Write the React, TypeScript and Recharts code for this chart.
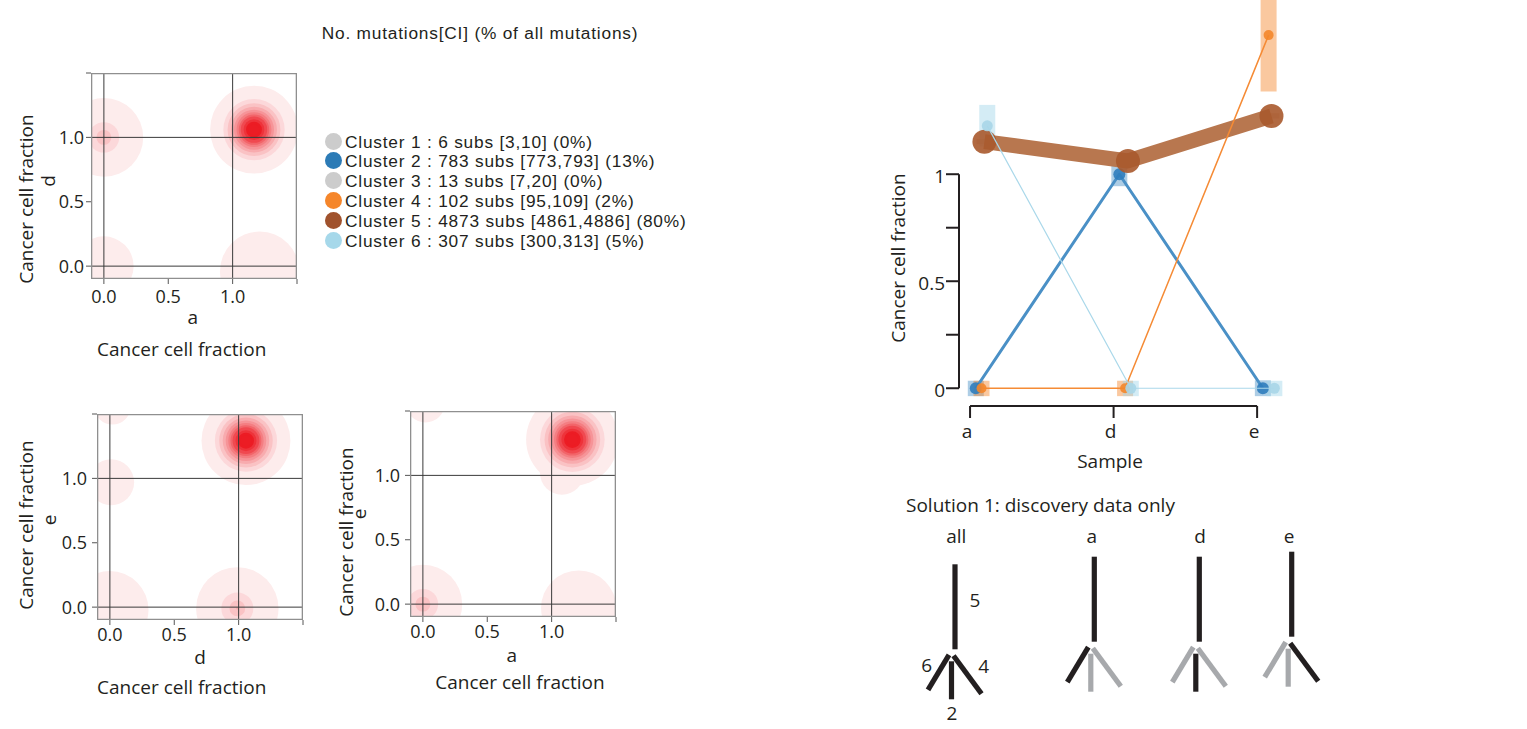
import React from 'react';
import { ScatterChart, Scatter, XAxis, YAxis, ReferenceLine, ReferenceDot, ErrorBar } from 'recharts';

const FONT = '"Open Sans", "Noto Sans", sans-serif';
const LEGEND_FONT = '"Liberation Sans", Arial, sans-serif';
const INK = '#231f20';

// ---- cluster summary ----
const clusterNames = ['Cluster 1', 'Cluster 2', 'Cluster 3', 'Cluster 4', 'Cluster 5', 'Cluster 6'];
const clusterSubs = [6, 783, 13, 102, 4873, 307];
const clusterCiLow = [3, 773, 7, 95, 4861, 300];
const clusterCiHigh = [10, 793, 20, 109, 4886, 313];
const clusterPct = [0, 13, 0, 2, 80, 5];
const clusterColors = ['#cccccc', '#2c7bb6', '#cccccc', '#f5862b', '#a0522d', '#a6d8ea'];

// ---- cancer cell fraction per sample (a, d, e) ----
const samples = ['a', 'd', 'e'];
const ccfCluster2 = [0, 1.0, 0];
const ciLowCluster2 = [-0.037, 0.944, -0.037];
const ciHighCluster2 = [0.035, 1.046, 0.037];
const ccfCluster4 = [0, 0, 1.65];
const ciLowCluster4 = [-0.037, -0.037, 1.386];
const ciHighCluster4 = [0.035, 0.035, 1.95];
const ccfCluster5 = [1.152, 1.062, 1.272];
const ciLowCluster5 = [1.14, 1.05, 1.26];
const ciHighCluster5 = [1.165, 1.075, 1.285];
const ccfCluster6 = [1.226, 0, 0];
const ciLowCluster6 = [1.129, -0.037, -0.037];
const ciHighCluster6 = [1.324, 0.035, 0.035];

// ---- 2D density peaks for the pairwise sample plots ----
const densityAD = [
  { x: 0, y: 0, peak: 0.15, spread: 0.57 },
  { x: 1.21, y: -0.04, peak: 0.15, spread: 0.76 },
  { x: 0, y: 1.0, peak: 0.31, spread: 0.27 },
  { x: 1.166, y: 1.06, peak: 1, spread: 0.148 },
];
const densityDE = [
  { x: 0.02, y: 1.56, peak: 0.15, spread: 0.35 },
  { x: 0.01, y: 0.97, peak: 0.15, spread: 0.44 },
  { x: 0, y: -0.02, peak: 0.15, spread: 0.74 },
  { x: 0.99, y: -0.01, peak: 0.31, spread: 0.283 },
  { x: 1.057, y: 1.293, peak: 1, spread: 0.15 },
];
const densityAE = [
  { x: 0.02, y: 1.56, peak: 0.15, spread: 0.37 },
  { x: 1.21, y: -0.03, peak: 0.15, spread: 0.72 },
  { x: 0, y: 0, peak: 0.31, spread: 0.27 },
  { x: 1.08, y: 1.02, peak: 0.15, spread: 0.42 },
  { x: 1.161, y: 1.278, peak: 1, spread: 0.156 },
];

// ---- tree (cluster 5 trunk, three branches) ----
const treeNames = ['all', 'a', 'd', 'e'];
const treeEdges = [
  { cluster: 5, slot: 'trunk' },
  { cluster: 6, slot: 'left' },
  { cluster: 2, slot: 'middle' },
  { cluster: 4, slot: 'right' },
];

const ccfByCluster: Record<number, number[]> = { 2: ccfCluster2, 4: ccfCluster4, 5: ccfCluster5, 6: ccfCluster6 };

// ---------- shared text helper ----------
// bf = distance from top of a line-height:1 box to the baseline, in em
function Txt({ x, baseline, size = 19, anchor = 'middle', rotate = false, cy = 0, font, bf = 0.888, spacing, children }: any) {
  const common = { position: 'absolute' as const, fontSize: size, lineHeight: 1, whiteSpace: 'nowrap' as const, fontFamily: font, letterSpacing: spacing };
  if (rotate) {
    return (
      <div style={{ ...common, left: baseline - (bf - 0.5) * size, top: cy, transform: 'translate(-50%, -50%) rotate(-90deg)' }}>
        {children}
      </div>
    );
  }
  return (
    <div style={{ ...common, left: x, top: baseline - bf * size, transform: anchor === 'middle' ? 'translateX(-50%)' : undefined }}>
      {children}
    </div>
  );
}

// ---------- density panels ----------
const CCF_DOMAIN: [number, number] = [-0.1, 1.5];
const CCF_TICKS = [0, 0.5, 1, 1.5];
const PLOT = 206;
const PPU = PLOT / (CCF_DOMAIN[1] - CCF_DOMAIN[0]);
const LEVELS = [0.1, 0.2, 0.25, 0.3, 0.35, 0.4, 0.45, 0.5, 0.58, 0.66, 0.75];
const LEVEL_MIX = [0.085, 0.17, 0.27, 0.37, 0.47, 0.57, 0.68, 0.8, 0.9, 1, 1];
const RED = [236, 28, 36];
const levelFill = (f: number) => `rgb(${RED.map((c) => Math.round(255 - f * (255 - c))).join(',')})`;
const FRAME = '#8f8f8f';
const GRID = '#3a3a3a';
const NoMark = () => <g />;

function DensityBlob(props: any) {
  const { cx, cy, payload } = props;
  return (
    <g>
      {LEVELS.map((t, k) =>
        payload.peak > t ? (
          <circle key={k} cx={cx} cy={cy} r={payload.spread * Math.log(payload.peak / t) * PPU} fill={levelFill(LEVEL_MIX[k])} />
        ) : null
      )}
    </g>
  );
}

const fmtCcf = (v: number) => (v > 1.2 ? '' : v.toFixed(1));
const [LO, HI] = CCF_DOMAIN;
// reference lines at 0 and 1, then the panel box, drawn above the density
const gridLines = [0, 1].flatMap((v) => [
  [{ x: v, y: LO }, { x: v, y: HI }],
  [{ x: LO, y: v }, { x: HI, y: v }],
]);
const frameLines = [
  [{ x: LO, y: LO }, { x: HI, y: LO }],
  [{ x: LO, y: HI }, { x: HI, y: HI }],
  [{ x: LO, y: LO }, { x: LO, y: HI }],
  [{ x: HI, y: LO }, { x: HI, y: HI }],
];

function DensityPanel({ blobs, left, top, yAxisWidth, marginTop, xGap, yGap }: any) {
  const tickStyle = { fill: INK, fontSize: 18, fontFamily: FONT };
  const tickLine = { stroke: '#555' };
  return (
    <div style={{ position: 'absolute', left, top }}>
      <ScatterChart width={yAxisWidth + PLOT + 12} height={marginTop + PLOT + 30} margin={{ top: marginTop, right: 12, bottom: 0, left: 0 }}>
        <XAxis xAxisId={0} type="number" dataKey="x" domain={CCF_DOMAIN} allowDataOverflow ticks={CCF_TICKS} interval={0}
          tickFormatter={fmtCcf} tickSize={5} tickMargin={xGap} height={30} axisLine={false} tickLine={tickLine} tick={tickStyle} />
        <XAxis xAxisId="top" orientation="top" type="number" domain={CCF_DOMAIN} allowDataOverflow ticks={CCF_TICKS} interval={0}
          tick={false} tickSize={5} height={0} axisLine={false} tickLine={tickLine} />
        <YAxis yAxisId={0} type="number" dataKey="y" domain={CCF_DOMAIN} allowDataOverflow ticks={CCF_TICKS} interval={0}
          tickFormatter={fmtCcf} tickSize={5} tickMargin={yGap} width={yAxisWidth} axisLine={false} tickLine={tickLine} tick={tickStyle} />
        <YAxis yAxisId="right" orientation="right" type="number" domain={CCF_DOMAIN} allowDataOverflow ticks={CCF_TICKS} interval={0}
          tick={false} tickSize={5} width={0} axisLine={false} tickLine={tickLine} />
        <Scatter data={blobs} shape={DensityBlob} isAnimationActive={false} />
        {gridLines.map((seg, i) => (
          <Scatter key={'g' + i} data={seg} line={{ stroke: GRID, strokeWidth: 1 }} shape={NoMark} isAnimationActive={false} />
        ))}
        {frameLines.map((seg, i) => (
          <Scatter key={'f' + i} data={seg} line={{ stroke: FRAME, strokeWidth: 2.6 }} shape={NoMark} isAnimationActive={false} />
        ))}
      </ScatterChart>
    </div>
  );
}

// ---------- cluster trajectories ----------
const X_DOMAIN: [number, number] = [-0.077, 2.25];
const Y_DOMAIN: [number, number] = [-0.083, 1.814];

const lineSeries = [
  { id: 2, ccf: ccfCluster2, lo: ciLowCluster2, hi: ciHighCluster2, line: '#4a90c6', dot: '#2f7dbd', box: 'rgba(74,144,198,0.45)', width: 3, r: 6 },
  { id: 5, ccf: ccfCluster5, lo: ciLowCluster5, hi: ciHighCluster5, line: '#b8774f', dot: '#a9592c', box: 'rgba(160,82,45,0.3)', width: 15, r: 12 },
  { id: 4, ccf: ccfCluster4, lo: ciLowCluster4, hi: ciHighCluster4, line: '#f58b35', dot: '#f4862a', box: 'rgba(245,134,43,0.45)', width: 1.5, r: 5 },
  { id: 6, ccf: ccfCluster6, lo: ciLowCluster6, hi: ciHighCluster6, line: '#aad8ea', dot: '#a8d6e8', box: 'rgba(166,216,234,0.48)', width: 1.2, r: 5.5 },
];

function CcfTick(props: any) {
  const { x, y, payload } = props;
  const v = payload.value;
  const major = Math.abs(v * 2 - Math.round(v * 2)) < 1e-6;
  return (
    <g>
      <line x1={x - 13} x2={x} y1={y} y2={y} stroke={INK} strokeWidth={2} />
      {major && (
        <text x={x - 14} y={y + 8.7} textAnchor="end" fontSize={19} fontFamily={FONT} fill={INK}>{String(v)}</text>
      )}
    </g>
  );
}

function SampleTick(props: any) {
  const { x, y, payload } = props;
  return (
    <g>
      <line x1={x} x2={x} y1={y} y2={y + 12} stroke={INK} strokeWidth={2} />
      <text x={x - 3} y={y + 32.3} textAnchor="middle" fontSize={19} fontFamily={FONT} fill={INK}>{samples[payload.value]}</text>
    </g>
  );
}

function TrajectoryChart() {
  return (
    <div style={{ position: 'absolute', left: 870, top: 0 }}>
      <ScatterChart width={433} height={476} margin={{ top: 0, right: 10, bottom: 0, left: 0 }}>
        <XAxis type="number" dataKey="x" domain={X_DOMAIN} allowDataOverflow ticks={[0, 1, 2]} interval={0}
          axisLine={false} tickLine={false} tickSize={0} tickMargin={0} height={70} tick={<SampleTick />} />
        <YAxis type="number" dataKey="y" domain={Y_DOMAIN} allowDataOverflow ticks={[0, 0.25, 0.5, 0.75, 1]} interval={0}
          axisLine={false} tickLine={false} tickSize={0} tickMargin={0} width={89} tick={<CcfTick />} />
        <ReferenceLine segment={[{ x: X_DOMAIN[0], y: 0 }, { x: X_DOMAIN[0], y: 1 }]} stroke={INK} strokeWidth={2} ifOverflow="visible" />
        <ReferenceLine segment={[{ x: 0, y: Y_DOMAIN[0] }, { x: 2, y: Y_DOMAIN[0] }]} stroke={INK} strokeWidth={2} ifOverflow="visible" />
        {lineSeries.map((s) => (
          <Scatter
            key={s.id}
            data={samples.map((_, i) => ({ x: i + s.id * 0.02, y: s.ccf[i], err: [s.ccf[i] - s.lo[i], s.hi[i] - s.ccf[i]] }))}
            line={{ stroke: s.line, strokeWidth: s.width, strokeLinejoin: 'round' }}
            lineType="joint"
            shape={(p: any) => <circle cx={p.cx} cy={p.cy} r={s.r} fill={s.dot} fillOpacity={0.9} />}
            isAnimationActive={false}
          >
            <ErrorBar dataKey="err" direction="y" width={0} strokeWidth={16} stroke={s.box} />
          </Scatter>
        ))}
      </ScatterChart>
    </div>
  );
}

// ---------- trees ----------
const TREE_BASE = [
  { x: 5.5, y: 7.97 },
  { x: 19.43, y: 8.73 },
  { x: 29.93, y: 8.73 },
  { x: 39.17, y: 9.23 },
];
const TREE_TITLE_X = [5.63, 19.17, 30.0, 38.9];
const SLOT_GEOM: Record<string, { from: [number, number]; to: [number, number]; label: [number, number] }> = {
  trunk: { from: [0, 0], to: [0, 8.5], label: [2.0, 4.87] },
  left: { from: [-0.6, -0.55], to: [-2.7, -4.05], label: [-2.83, -1.57] },
  middle: { from: [-0.35, -1.2], to: [-0.35, -5.0], label: [-0.3, -6.4] },
  right: { from: [-0.15, -0.65], to: [2.65, -4.45], label: [2.88, -1.67] },
};

function TreeChart() {
  const labelStyle = { fill: INK, fontSize: 19, fontFamily: FONT };
  const segs: any[] = [];
  treeNames.forEach((name, t) => {
    const b = TREE_BASE[t];
    const edges = treeEdges.map((e) => ({ ...e, on: t === 0 || ccfByCluster[e.cluster][t - 1] > 0 }));
    // grey (absent) branches first so the present ones sit on top
    [...edges.filter((e) => !e.on), ...edges.filter((e) => e.on)].forEach((e) => {
      const g = SLOT_GEOM[e.slot];
      segs.push(
        <ReferenceLine
          key={name + e.slot}
          segment={[{ x: b.x + g.from[0], y: b.y + g.from[1] }, { x: b.x + g.to[0], y: b.y + g.to[1] }]}
          stroke={e.on ? INK : '#a7a9ac'}
          strokeWidth={5.2}
          ifOverflow="visible"
        />
      );
    });
  });
  return (
    <div style={{ position: 'absolute', left: 900, top: 490 }}>
      <ScatterChart width={440} height={239} margin={{ top: 0, right: 0, bottom: 0, left: 0 }}>
        <XAxis type="number" dataKey="x" domain={[0, 44]} allowDataOverflow hide />
        <YAxis type="number" dataKey="y" domain={[0, 23.9]} allowDataOverflow hide />
        <Scatter data={TREE_BASE} shape={NoMark} isAnimationActive={false} />
        {segs}
        {treeNames.map((name, t) => (
          <ReferenceDot key={'title' + name} x={TREE_TITLE_X[t]} y={19.3} r={1} fill="none" stroke="none" ifOverflow="visible"
            label={{ value: name, position: 'center', ...labelStyle }} />
        ))}
        {treeEdges.map((e) => {
          const g = SLOT_GEOM[e.slot];
          return (
            <ReferenceDot key={'num' + e.cluster} x={TREE_BASE[0].x + g.label[0]} y={TREE_BASE[0].y + g.label[1]} r={1} fill="none" stroke="none" ifOverflow="visible"
              label={{ value: String(e.cluster), position: 'center', ...labelStyle }} />
          );
        })}
      </ScatterChart>
    </div>
  );
}

export default function App() {
  const lg = { font: LEGEND_FONT, size: 17.3, bf: 0.8465, spacing: 0.8, anchor: 'start' };
  return (
    <div style={{ position: 'absolute', left: 0, top: 0, width: 1527, height: 729, overflow: 'hidden', background: '#fff', fontFamily: FONT, color: INK }}>
      {/* legend */}
      <Txt x={321.7} baseline={40} {...lg}>No. mutations[CI] (% of all mutations)</Txt>
      {clusterNames.map((n, i) => (
        <React.Fragment key={n}>
          <div style={{ position: 'absolute', left: 333.3 - 8.5, top: 148.3 + i * 19.8 - 7.3 - 8.5, width: 17, height: 17, borderRadius: '50%', background: clusterColors[i] }} />
          <Txt x={345} baseline={148.3 + i * 19.8} {...lg}>
            {`${n} : ${clusterSubs[i]} subs [${clusterCiLow[i]},${clusterCiHigh[i]}] (${clusterPct[i]}%)`}
          </Txt>
        </React.Fragment>
      ))}

      {/* a vs d */}
      <DensityPanel blobs={densityAD} left={0} top={60} yAxisWidth={91} marginTop={13} xGap={6} yGap={2} />
      <Txt rotate baseline={33} cy={199}>Cancer cell fraction</Txt>
      <Txt rotate baseline={55} cy={181}>d</Txt>
      <Txt x={192.7} baseline={325}>a</Txt>
      <Txt x={181.7} baseline={356.7}>Cancer cell fraction</Txt>

      {/* d vs e */}
      <DensityPanel blobs={densityDE} left={0} top={400} yAxisWidth={97} marginTop={14} xGap={3} yGap={5} />
      <Txt rotate baseline={33} cy={525}>Cancer cell fraction</Txt>
      <Txt rotate baseline={56.7} cy={520}>e</Txt>
      <Txt x={200} baseline={665}>d</Txt>
      <Txt x={181.7} baseline={695}>Cancer cell fraction</Txt>

      {/* a vs e */}
      <DensityPanel blobs={densityAE} left={320} top={400} yAxisWidth={90} marginTop={11} xGap={3} yGap={5} />
      <Txt rotate baseline={353.3} cy={532}>Cancer cell fraction</Txt>
      <Txt rotate baseline={366.7} cy={514}>e</Txt>
      <Txt x={511.7} baseline={663.3}>a</Txt>
      <Txt x={520} baseline={690}>Cancer cell fraction</Txt>

      {/* trajectories */}
      <TrajectoryChart />
      <Txt rotate baseline={905} cy={258.3}>Cancer cell fraction</Txt>
      <Txt x={1110} baseline={468.6}>Sample</Txt>

      {/* trees */}
      <Txt x={906} baseline={513.3} anchor="start">Solution 1: discovery data only</Txt>
      <TreeChart />
    </div>
  );
}
